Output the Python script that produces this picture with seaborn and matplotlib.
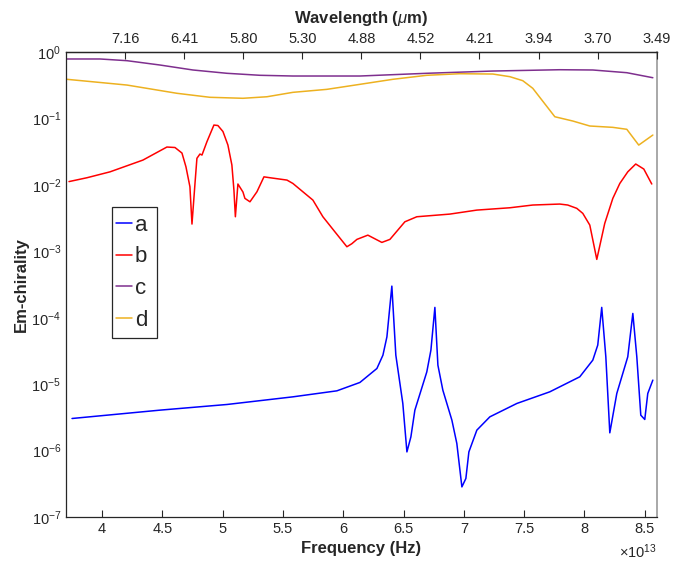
import numpy as np
import pandas as pd
import matplotlib
matplotlib.use("Agg")
import matplotlib.pyplot as plt
import seaborn as sns
from matplotlib.patches import Rectangle
from matplotlib.ticker import FixedLocator, NullFormatter, LogFormatterSciNotation

# ---------------- data (frequency in units of 1e13 Hz) ----------------
freq_a = [3.750, 4.479, 5.035, 5.582, 5.947, 6.138, 6.279, 6.329, 6.362, 6.403, 6.436,
          6.494, 6.528, 6.561, 6.594, 6.693, 6.727, 6.760, 6.785, 6.826, 6.901, 6.942,
          6.984, 7.017, 7.042, 7.108, 7.216, 7.440, 7.713, 7.962, 8.070, 8.111, 8.144,
          8.178, 8.211, 8.269, 8.360, 8.402, 8.435, 8.468, 8.501, 8.526, 8.568]
em_a = [3.04e-6, 4.06e-6, 4.94e-6, 6.44e-6, 7.93e-6, 1.06e-5, 1.72e-5, 2.73e-5, 5.15e-5,
        2.99e-4, 2.73e-5, 5.12e-6, 9.55e-7, 1.61e-6, 4.06e-6, 1.53e-5, 3.25e-5, 1.43e-4,
        1.93e-5, 8.12e-6, 2.87e-6, 1.28e-6, 2.84e-7, 3.80e-7, 9.55e-7, 2.03e-6, 3.22e-6,
        5.12e-6, 7.66e-6, 1.29e-5, 2.30e-5, 3.87e-5, 1.43e-4, 2.58e-5, 1.85e-6, 7.24e-6,
        2.58e-5, 1.16e-4, 2.58e-5, 3.41e-6, 2.94e-6, 7.24e-6, 1.15e-5]

freq_b = [3.725, 3.874, 4.065, 4.338, 4.537, 4.604, 4.662, 4.695, 4.728, 4.745, 4.770,
          4.786, 4.811, 4.828, 4.869, 4.927, 4.960, 5.002, 5.043, 5.076, 5.093, 5.105,
          5.126, 5.168, 5.184, 5.226, 5.284, 5.342, 5.392, 5.533, 5.582, 5.665, 5.748,
          5.831, 5.930, 6.030, 6.071, 6.113, 6.204, 6.320, 6.387, 6.511, 6.610, 6.884,
          7.108, 7.382, 7.572, 7.796, 7.862, 7.937, 7.987, 8.045, 8.103, 8.169, 8.236,
          8.294, 8.360, 8.426, 8.493, 8.559]
em_b = [1.12e-2, 1.28e-2, 1.57e-2, 2.36e-2, 3.71e-2, 3.65e-2, 3.01e-2, 1.87e-2, 9.36e-3,
        2.57e-3, 1.05e-2, 2.51e-2, 2.91e-2, 2.81e-2, 4.46e-2, 7.95e-2, 7.82e-2, 6.35e-2,
        3.98e-2, 1.99e-2, 8.35e-3, 3.31e-3, 1.03e-2, 7.79e-3, 6.26e-3, 5.56e-3, 7.87e-3,
        1.32e-2, 1.28e-2, 1.18e-2, 1.05e-2, 7.87e-3, 5.90e-3, 3.31e-3, 1.97e-3, 1.17e-3,
        1.30e-3, 1.51e-3, 1.75e-3, 1.36e-3, 1.51e-3, 2.78e-3, 3.31e-3, 3.63e-3, 4.17e-3,
        4.52e-3, 4.97e-3, 5.14e-3, 4.97e-3, 4.43e-3, 3.72e-3, 2.48e-3, 7.55e-4, 2.63e-3,
        6.26e-3, 1.05e-2, 1.57e-2, 2.06e-2, 1.73e-2, 1.03e-2]

freq_c = [3.708, 3.982, 4.206, 4.479, 4.753, 5.035, 5.309, 5.582, 6.138, 6.693, 7.241,
          7.796, 8.070, 8.352, 8.568]
em_c = [0.785, 0.785, 0.740, 0.637, 0.536, 0.478, 0.446, 0.435, 0.435, 0.478, 0.517,
        0.541, 0.536, 0.488, 0.410]

freq_d = [3.708, 4.206, 4.620, 4.894, 5.168, 5.367, 5.582, 5.864, 6.138, 6.411, 6.693,
          6.967, 7.241, 7.382, 7.489, 7.572, 7.755, 7.904, 8.045, 8.236, 8.352, 8.451, 8.568]
em_d = [0.388, 0.318, 0.239, 0.208, 0.201, 0.212, 0.247, 0.274, 0.326, 0.388, 0.446,
        0.471, 0.466, 0.425, 0.370, 0.284, 0.106, 0.0914, 0.0769, 0.0734, 0.0686, 0.0397, 0.0562]

series_names = ["a", "b", "c", "d"]
series_colors = ["#0000ff", "#ff0000", "#7e2f8e", "#edb120"]

freq_ticks = [4, 4.5, 5, 5.5, 6, 6.5, 7, 7.5, 8, 8.5]
freq_tick_labels = ["4", "4.5", "5", "5.5", "6", "6.5", "7", "7.5", "8", "8.5"]
wavelength_tick_freq = [4.19, 4.68, 5.17, 5.66, 6.15, 6.64, 7.13, 7.62, 8.11, 8.60]
wavelength_labels = ["7.16", "6.41", "5.80", "5.30", "4.88", "4.52", "4.21", "3.94", "3.70", "3.49"]
y_decades = [1e-7, 1e-6, 1e-5, 1e-4, 1e-3, 1e-2, 1e-1, 1e0]

# ---------------- build frame ----------------
frames = []
for name, f, e in zip(series_names, [freq_a, freq_b, freq_c, freq_d], [em_a, em_b, em_c, em_d]):
    frames.append(pd.DataFrame({"freq": f, "em": e, "series": name}))
df = pd.concat(frames, ignore_index=True)

sns.set_style("white")
plt.rcParams['font.family'] = ['Liberation Sans', 'DejaVu Sans']
plt.rcParams['mathtext.fontset'] = 'custom'
plt.rcParams['mathtext.rm'] = 'Liberation Sans'
plt.rcParams['mathtext.it'] = 'Liberation Sans:italic'
plt.rcParams['mathtext.bf'] = 'Liberation Sans:bold'
plt.rcParams['axes.unicode_minus'] = False

fig = plt.figure(figsize=(6.74, 5.65), dpi=100)
ax = fig.add_axes([66 / 674, 1 - 517 / 565, (656.7 - 66) / 674, (517 - 52) / 565])

palette = dict(zip(series_names, series_colors))
sns.lineplot(data=df, x="freq", y="em", hue="series", palette=palette,
             estimator=None, sort=False, linewidth=1.1, ax=ax, legend=False)

ax.set_yscale("log")
ax.set_ylim(y_decades[0], y_decades[-1])
ax.set_xlim(3.7, 8.6)
minor_y = [d * m for d in y_decades[:-1] for m in range(2, 10)]
ax.yaxis.set_major_locator(FixedLocator(y_decades))
ax.yaxis.set_minor_locator(FixedLocator(minor_y))
ax.yaxis.set_minor_formatter(NullFormatter())
ax.yaxis.set_major_formatter(LogFormatterSciNotation())
ax.set_xticks(freq_ticks)
ax.set_xticklabels(freq_tick_labels)

dark = "#262626"
ax.tick_params(axis="both", which="both", direction="in", colors=dark,
               labelcolor=dark, labelsize=10.5, top=False, right=False)
ax.tick_params(axis="both", which="major", length=5, width=0.8)
ax.tick_params(axis="y", which="minor", length=3, width=0.6)
ax.tick_params(axis="x", which="minor", bottom=False)
for side in ["left", "bottom", "top"]:
    ax.spines[side].set_color(dark)
    ax.spines[side].set_linewidth(0.9)
ax.spines["right"].set_color("#999999")
ax.spines["right"].set_linewidth(1.2)

ax.set_xlabel("Frequency (Hz)", fontsize=12, fontweight="bold", color=dark, labelpad=4)
ax.set_ylabel("Em-chirality", fontsize=12, fontweight="bold", color=dark, labelpad=2)
ax.text(1.0, -0.075, r"$\times 10^{13}$", transform=ax.transAxes, ha="right",
        va="center", fontsize=10.5, color=dark)

# top wavelength axis
ax2 = ax.twiny()
ax2.set_xlim(ax.get_xlim())
ax2.set_xticks(wavelength_tick_freq)
ax2.set_xticklabels(wavelength_labels)
ax2.tick_params(axis="x", direction="in", length=5, width=0.8, colors=dark,
                labelcolor=dark, labelsize=10.5, pad=4)
ax2.tick_params(axis="y", left=False, right=False, labelleft=False, labelright=False)
for side in ["left", "right", "bottom"]:
    ax2.spines[side].set_visible(False)
ax2.spines["top"].set_color(dark)
ax2.spines["top"].set_linewidth(0.9)
ax2.set_xlabel(r"Wavelength ($\mu$m)", fontsize=12, fontweight="bold", color=dark, labelpad=7)

# legend box (MATLAB style: tall padding)
box = Rectangle((0.078, 0.385), 0.076, 0.282, transform=ax.transAxes,
                facecolor="white", edgecolor=dark, linewidth=0.9, zorder=4)
ax.add_patch(box)
leg = ax.legend(handles=ax.lines[:4], labels=series_names, loc="upper left",
                bbox_to_anchor=(0.084, 0.650), fontsize=16, frameon=False,
                handlelength=0.75, handletextpad=0.12, labelspacing=0.48,
                borderpad=0.0, borderaxespad=0.0)
leg.set_zorder(5)

fig.savefig("out.png", dpi=100, facecolor="white")
